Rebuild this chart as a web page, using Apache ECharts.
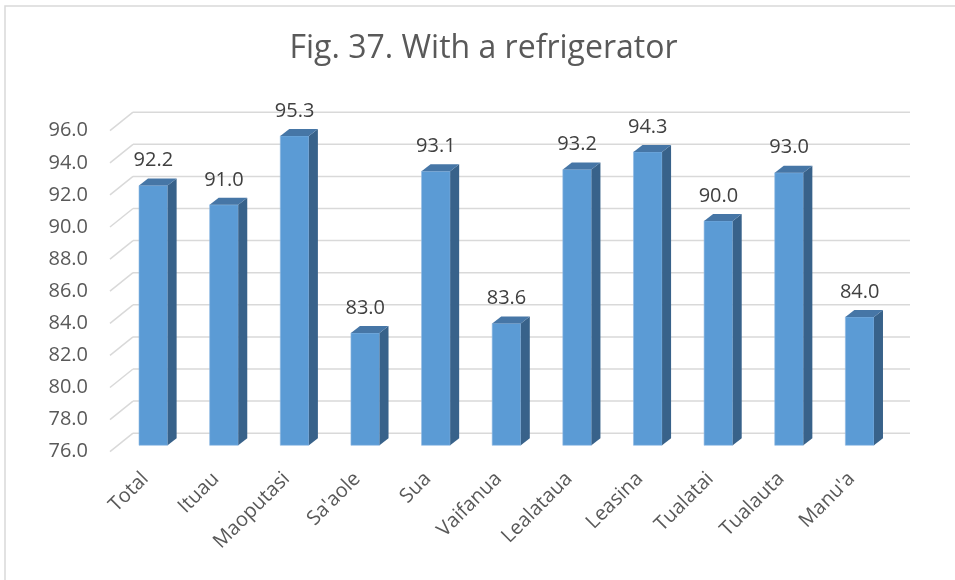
<!DOCTYPE html>
<html>
<head>
<meta charset="utf-8">
<script src="https://cdn.jsdelivr.net/npm/echarts@6/dist/echarts.min.js"></script>
<style>
  html, body { margin: 0; padding: 0; background: #ffffff; }
  #chart { width: 955px; height: 580px; }
</style>
</head>
<body>
<div id="chart"></div>
<script>
// Share of households with a refrigerator, by district (%)
const categories = ['Total', 'Ituau', 'Maoputasi', "Sa'aole", 'Sua', 'Vaifanua',
  'Lealataua', 'Leasina', 'Tualatai', 'Tualauta', "Manu'a"];
const values = [92.2, 91.0, 95.3, 83.0, 93.1, 83.6, 93.2, 94.3, 90.0, 93.0, 84.0];
const yTicks = [76, 78, 80, 82, 84, 86, 88, 90, 92, 94, 96];

const Y_MIN = 76, Y_MAX = 96;
const FONT = '"Open Sans", "Liberation Sans", sans-serif';

// Depth of the back wall and of each bar (pseudo-3D projection)
const WALL_DX = 23, WALL_DY = -18.5;
const BAR_DX = 9, BAR_DY = -7;

const chart = echarts.init(document.getElementById('chart'), null, { renderer: 'canvas' });

function renderWall(params, api) {
  const cs = params.coordSys;
  const v = api.value(0);
  const y = api.coord([0, v])[1];
  const x0 = cs.x;
  const style = { stroke: '#d9d9d9', lineWidth: 1.5 };
  return {
    type: 'group',
    children: [
      { type: 'line', shape: { x1: x0, y1: y, x2: x0 + WALL_DX, y2: y + WALL_DY }, style },
      { type: 'line', shape: { x1: x0 + WALL_DX, y1: y + WALL_DY, x2: x0 + WALL_DX + cs.width, y2: y + WALL_DY }, style }
    ]
  };
}

function renderBar(params, api) {
  const idx = api.value(0);
  const v = api.value(1);
  const top = api.coord([idx, v]);
  const base = api.coord([idx, Y_MIN]);
  const band = api.size([1, 0])[0];
  const w = band * 0.405;
  const xl = top[0] - w / 2, xr = top[0] + w / 2;
  const yt = top[1], yb = base[1];
  return {
    type: 'group',
    children: [
      { type: 'rect', shape: { x: xl, y: yt, width: w, height: yb - yt },
        style: { fill: '#5b9bd5', stroke: '#8fb8e2', lineWidth: 0.6 } },
      { type: 'polygon', shape: { points: [[xr, yt], [xr + BAR_DX, yt + BAR_DY], [xr + BAR_DX, yb + BAR_DY], [xr, yb]] },
        style: { fill: '#38628a' } },
      { type: 'polygon', shape: { points: [[xl, yt], [xl + BAR_DX, yt + BAR_DY], [xr + BAR_DX, yt + BAR_DY], [xr, yt]] },
        style: { fill: '#4676a6' } },
      { type: 'text', x: top[0], y: yt - 25,
        style: { text: v.toFixed(1), fill: '#404040', font: '20px ' + FONT, align: 'center', verticalAlign: 'middle' } }
    ]
  };
}

chart.setOption({
  backgroundColor: '#ffffff',
  animation: false,
  graphic: [
    { type: 'rect', shape: { x: 5, y: 6, width: 1000, height: 1000 },
      style: { fill: 'none', stroke: '#d9d9d9', lineWidth: 1.5 }, z: -10 },
    { type: 'text', x: 483.5, y: 49,
      style: { text: 'Fig. 37. With a refrigerator', fill: '#595959',
        font: '32px ' + FONT, align: 'center', verticalAlign: 'middle' } }
  ],
  grid: [
    // bar plane
    { left: 118, width: 777, top: 124.7, height: 320.6 },
    // front plane (axis labels)
    { left: 110, width: 777, top: 130.7, height: 321 }
  ],
  xAxis: [
    { type: 'category', gridIndex: 0, data: categories, show: false },
    { type: 'category', gridIndex: 1, data: categories,
      axisLine: { show: false }, axisTick: { show: false },
      axisLabel: { rotate: 45, margin: 24, interval: 0, fontFamily: FONT, fontSize: 20, color: '#595959' } }
  ],
  yAxis: [
    { type: 'value', gridIndex: 0, min: Y_MIN, max: Y_MAX, interval: 2, show: false },
    { type: 'value', gridIndex: 1, min: Y_MIN, max: Y_MAX, interval: 2,
      axisLine: { show: false }, axisTick: { show: false }, splitLine: { show: false },
      axisLabel: { margin: 22, fontFamily: FONT, fontSize: 20, color: '#595959',
        formatter: v => v.toFixed(1) } }
  ],
  series: [
    { type: 'custom', xAxisIndex: 1, yAxisIndex: 1, renderItem: renderWall,
      data: yTicks.map(v => [v]), encode: { y: 0 }, z: 1, silent: true },
    { type: 'custom', xAxisIndex: 0, yAxisIndex: 0, renderItem: renderBar,
      data: values.map((v, i) => [i, v]), encode: { x: 0, y: 1 }, z: 2, silent: true }
  ]
});
</script>
</body>
</html>
